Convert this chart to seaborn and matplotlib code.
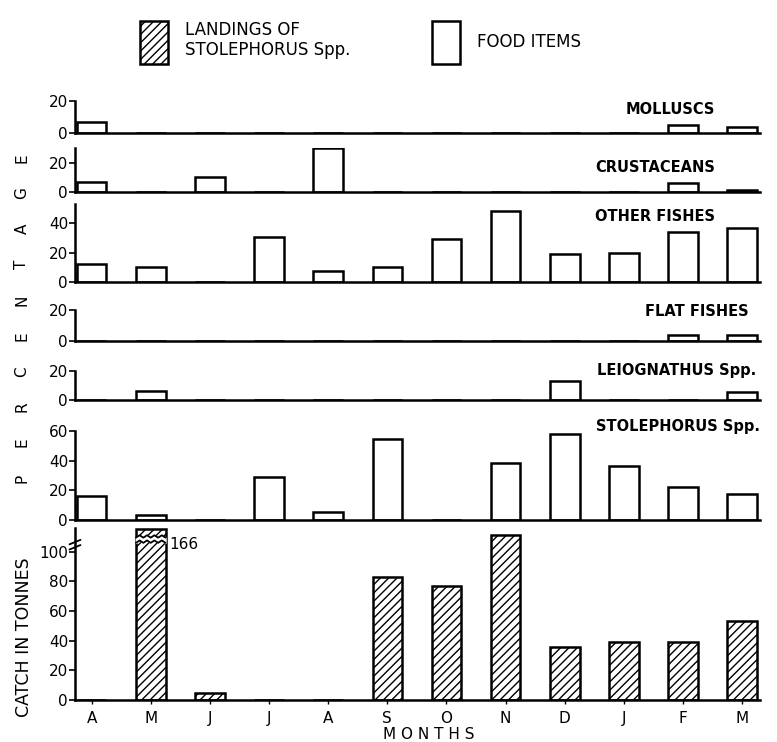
import numpy as np
import matplotlib.pyplot as plt
import matplotlib.transforms as mtransforms
from matplotlib.patches import Patch
import seaborn as sns

# months from April to March
months = ["A", "M", "J", "J", "A", "S", "O", "N", "D", "J", "F", "M"]

# percentage of food items
molluscs = [7, 0, 0, 0, 0, 0, 0, 0, 0, 0, 5, 4]
crustaceans = [7, 0, 10, 0, 30, 0, 0, 0, 0, 0, 6, 1.5]
other_fishes = [12, 10.5, 0, 30.5, 7.5, 10, 29, 48, 19, 20, 34, 37]
flat_fishes = [0, 0, 0, 0, 0, 0, 0, 0, 0, 0, 4, 4]
leiognathus = [0, 6, 0, 0, 0, 0, 0, 0, 13, 0, 0, 5.5]
stolephorus = [16, 3.5, 0, 29, 5.5, 54.5, 0, 38.5, 58, 36.5, 22, 17.5]

# landings of Stolephorus spp. (tonnes)
catch = [0, 166, 5, 0, 0, 83, 77, 111, 36, 39, 39, 53]

sns.set_style("ticks")
plt.rcParams["font.family"] = ["DejaVu Sans"]
for k in ["text.color", "axes.labelcolor", "xtick.color", "ytick.color",
          "axes.edgecolor"]:
    plt.rcParams[k] = "black"

W, H = 777, 742
fig = plt.figure(figsize=(W / 100, H / 100), dpi=100)

x_left, x_right = 75, 760


def make_ax(top_px, zero_px):
    return fig.add_axes([x_left / W, 1 - zero_px / H,
                         (x_right - x_left) / W, (zero_px - top_px) / H])


# name, values, ymax, ticks, top px, zero px, label y (axes frac)
panels = [
    ("MOLLUSCS", molluscs, 20, [0, 20], 101, 133, 0.72),
    ("CRUSTACEANS", crustaceans, 30, [0, 20], 148, 192, 0.55),
    ("OTHER FISHES", other_fishes, 53, [0, 20, 40], 204, 282, 0.84),
    ("FLAT FISHES", flat_fishes, 20, [0, 20], 310, 341, 0.95),
    ("LEIOGNATHUS Spp.", leiognathus, 20, [0, 20], 371, 400, 1.02),
    ("STOLEPHORUS Spp.", stolephorus, 60, [0, 20, 40, 60], 431, 520, 1.05),
]
label_right = [0.934, 0.934, 0.934, 0.983, 0.995, 1.0]

xpos = list(range(len(months)))

for (name, vals, ymax, ticks, top, zero, ly), lx in zip(panels, label_right):
    ax = make_ax(top, zero)
    sns.barplot(x=xpos, y=vals, ax=ax, color="white", edgecolor="black",
                linewidth=1.8, width=0.5, saturation=1)
    ax.set_xlim(-0.28, 11.3)
    ax.set_ylim(0, ymax)
    ax.set_yticks(ticks)
    ax.set_xticks([])
    ax.set_ylabel("")
    ax.tick_params(axis="y", labelsize=11, length=4, width=1.2, pad=1)
    sns.despine(ax=ax)
    for s in ["left", "bottom"]:
        ax.spines[s].set_linewidth(1.8)
    ax.patch.set_alpha(0)
    ax.text(lx, ly, name, transform=ax.transAxes, ha="right", va="center",
            fontsize=10.5, fontweight="bold")

# catch panel
cap = 116
ax = make_ax(528, 700)
sns.barplot(x=xpos, y=catch, ax=ax, color="white", edgecolor="black",
            linewidth=1.8, width=0.5, saturation=1, hatch="////")
ax.set_xlim(-0.28, 11.3)
ax.set_ylim(0, cap)
ax.set_yticks([0, 20, 40, 60, 80, 100])
ax.set_xticks(xpos)
ax.set_xticklabels(months, fontsize=11)
ax.tick_params(axis="y", labelsize=11, length=4, width=1.2, pad=1)
ax.tick_params(axis="x", length=3, width=1.0, pad=5)
ax.set_ylabel("CATCH IN TONNES", fontsize=12.5)
ax.yaxis.set_label_coords(-0.062, 0.366)
ax.set_xlabel("M O N T H S", fontsize=11)
ax.xaxis.set_label_coords(0.517, -0.155)
sns.despine(ax=ax)
for s in ["left", "bottom"]:
    ax.spines[s].set_linewidth(1.8)
ax.patch.set_alpha(0)

# broken bar for the very large landing
i_big = int(np.argmax(catch))
bar = ax.patches[i_big]
bar.set_height(min(bar.get_height(), cap - 0.5))
x0, w = bar.get_x(), bar.get_width()
xs = np.linspace(x0, x0 + w, 9)
zig = np.tile([0, 1.6], 5)[:9]
ax.fill_between(xs, 106 + zig, 109.5 + zig, color="white", zorder=5)
ax.plot(xs, 106 + zig, color="black", lw=1.3, zorder=6)
ax.plot(xs, 109.5 + zig, color="black", lw=1.3, zorder=6)
ax.text(x0 + w + 0.07, 105, str(catch[i_big]), fontsize=11, va="center",
        ha="left")

# break mark on y axis
trans = mtransforms.blended_transform_factory(ax.transAxes, ax.transData)
for yb in (103, 106.5):
    ax.plot([-0.008, 0.008], [yb - 1.5, yb + 1.5], color="black", lw=1.3,
            transform=trans, clip_on=False)

# vertical PERCENTAGE label, letter by letter
word = "PERCENTAGE"
ys = np.linspace(478, 158, len(word))
for ch, yp in zip(word, ys):
    fig.text(22 / W, 1 - yp / H, ch, rotation=90, ha="center", va="center",
             fontsize=11)

# legend
handles = [
    Patch(facecolor="white", edgecolor="black", hatch="////", linewidth=1.8,
          label="LANDINGS OF\nSTOLEPHORUS Spp."),
    Patch(facecolor="white", edgecolor="black", linewidth=1.8,
          label="FOOD ITEMS"),
]
fig.legend(handles=handles, loc="center left", bbox_to_anchor=(140 / W, 0.943),
           ncol=2, frameon=False, handlelength=1.7, handleheight=3.6,
           fontsize=12, columnspacing=4.9, handletextpad=1.0,
           borderpad=0, borderaxespad=0)

fig.savefig("out.png", dpi=100, facecolor="white")
